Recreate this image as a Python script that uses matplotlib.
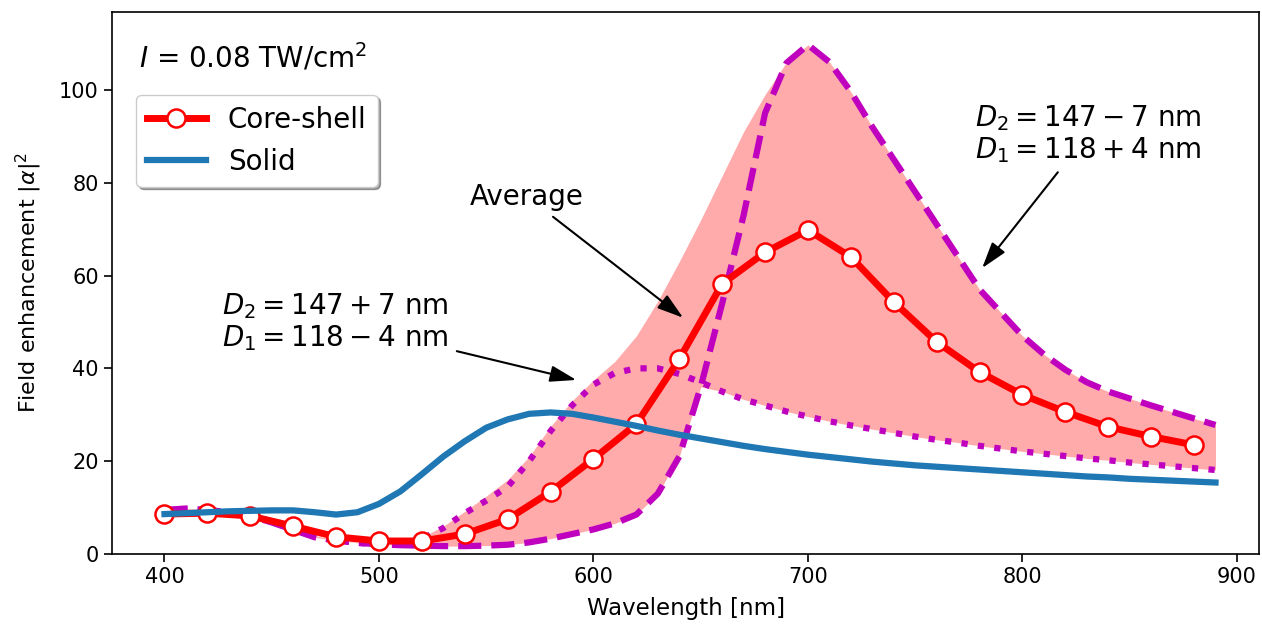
import numpy as np
import matplotlib
matplotlib.use("Agg")
import matplotlib.pyplot as plt

# ---- DATA ----
# wavelength grid of the D-variation curves (nm)
wl = [400, 410, 420, 430, 440, 450, 460, 470, 480, 490,
      500, 510, 520, 530, 540, 550, 560, 570, 580, 590,
      600, 610, 620, 630, 640, 650, 660, 670, 680, 690,
      700, 710, 720, 730, 740, 750, 760, 770, 780, 790,
      800, 810, 820, 830, 840, 850, 860, 870, 880, 890]

# D2 = 147-7 nm, D1 = 118+4 nm (dashed)
d_minus = [9.5, 9.8, 9.5, 9.0, 8.2, 6.8, 5.2, 3.6, 2.9, 2.4,
           2.1, 1.9, 1.8, 1.7, 1.7, 1.8, 2.0, 2.5, 3.3, 4.3,
           5.3, 6.6, 8.5, 13.0, 21.0, 36.0, 54.0, 73.0, 95.0, 105.8,
           109.7, 106.0, 99.6, 92.0, 85.0, 78.0, 71.0, 64.0, 57.0, 52.0,
           47.0, 43.0, 39.7, 37.0, 35.0, 33.5, 32.0, 30.6, 29.2, 27.8]

# D2 = 147+7 nm, D1 = 118-4 nm (dotted)
d_plus = [9.3, 9.5, 9.3, 8.9, 8.3, 7.0, 5.5, 4.0, 3.0, 2.4,
          2.1, 2.3, 3.2, 5.6, 8.8, 11.5, 14.5, 20.0, 26.5, 32.0,
          36.5, 39.0, 40.0, 40.0, 38.8, 37.0, 35.0, 33.3, 32.0, 30.7,
          29.6, 28.6, 27.7, 26.9, 26.1, 25.3, 24.6, 24.0, 23.3, 22.7,
          22.1, 21.6, 21.1, 20.6, 20.2, 19.7, 19.3, 18.9, 18.5, 18.1]

# upper edge of the shaded spread
spread_top = [9.5, 9.8, 9.5, 9.0, 8.3, 7.0, 5.5, 4.0, 3.0, 2.5,
              2.3, 2.6, 3.6, 6.0, 9.2, 12.5, 16.0, 21.0, 27.5, 33.0,
              37.5, 41.5, 47.0, 54.5, 63.0, 72.0, 81.5, 91.0, 99.0, 106.0,
              109.7, 106.0, 99.6, 92.0, 85.0, 78.0, 71.0, 64.0, 57.0, 52.0,
              47.0, 43.0, 39.7, 37.0, 35.0, 33.5, 32.0, 30.6, 29.2, 27.8]

# solid particle
solid = [8.6, 8.8, 9.0, 9.2, 9.3, 9.4, 9.4, 9.0, 8.5, 9.0,
         10.8, 13.5, 17.2, 21.0, 24.3, 27.2, 29.0, 30.2, 30.5, 30.2,
         29.4, 28.5, 27.6, 26.6, 25.7, 24.9, 24.1, 23.3, 22.6, 22.0,
         21.4, 20.9, 20.4, 19.9, 19.5, 19.1, 18.8, 18.5, 18.2, 17.9,
         17.6, 17.3, 17.0, 16.7, 16.5, 16.2, 16.0, 15.8, 15.6, 15.4]

# core-shell average
wl_cs = [400, 420, 440, 460, 480, 500, 520, 540, 560, 580, 600, 620, 640,
         660, 680, 700, 720, 740, 760, 780, 800, 820, 840, 860, 880]
core_shell = [8.6, 8.8, 8.2, 6.0, 3.7, 2.8, 2.8, 4.3, 7.5, 13.4, 20.5, 28.0, 42.0,
              58.2, 65.0, 69.8, 64.0, 54.3, 45.7, 39.2, 34.3, 30.6, 27.4, 25.3, 23.5]

spread_bottom = np.minimum(d_minus, d_plus)

# ---- PLOT ----
fig = plt.figure(figsize=(12.62, 6.25), dpi=100)
ax = fig.add_axes([0.0887, 0.1136, 0.9093, 0.8674])

ax.fill_between(wl, spread_bottom, spread_top, color="r", alpha=0.33, lw=0, zorder=1)
ax.plot(wl, d_minus, "--", color="m", lw=4.5, zorder=2)
ax.plot(wl, d_plus, ":", color="m", lw=4.5, zorder=2)
ax.plot(wl_cs, core_shell, "-o", color="r", lw=5, markersize=13,
        markerfacecolor="white", markeredgecolor="r", markeredgewidth=1.8,
        label="Core-shell", zorder=3)
ax.plot(wl, solid, "-", color="#1f77b4", lw=4.5, label="Solid", zorder=4)

ax.set_xlim(375.5, 910.5)
ax.set_ylim(0, 116.8)
ax.set_xticks([400, 500, 600, 700, 800, 900])
ax.set_yticks([0, 20, 40, 60, 80, 100])
ax.tick_params(labelsize=15, length=6, width=1.2)
for s in ax.spines.values():
    s.set_linewidth(1.2)

ax.set_xlabel("Wavelength [nm]", fontsize=16.5, labelpad=7)
ax.set_ylabel(r"Field enhancement $|\alpha|^2$", fontsize=16, labelpad=11)

ax.text(0.0234, 0.915, r"$I$ = 0.08 TW/cm$^2$", transform=ax.transAxes,
        fontsize=20, va="center", ha="left")

leg = ax.legend(loc="upper left", bbox_to_anchor=(0.009, 0.873), fontsize=20,
                shadow=True, fancybox=True, framealpha=1, handlelength=2.1,
                borderpad=0.4, labelspacing=0.5, handletextpad=0.8)

arrow = dict(arrowstyle="-|>,head_length=0.8,head_width=0.25", color="k",
             lw=1.5, shrinkA=4, shrinkB=0)
ax.annotate("Average", xy=(641.8, 50.9), xytext=(569, 77), fontsize=20,
            ha="center", va="center", arrowprops=arrow)
ax.annotate("$D_2 = 147 + 7$ nm\n$D_1 = 118 - 4$ nm", xy=(592, 37.5),
            xytext=(479.7, 50), fontsize=20, ha="center", va="center",
            linespacing=1.12, arrowprops=arrow)
ax.annotate("$D_2 = 147 - 7$ nm\n$D_1 = 118 + 4$ nm", xy=(781.2, 61.6),
            xytext=(830.6, 90.5), fontsize=20, ha="center", va="center",
            linespacing=1.12, arrowprops=arrow)

plt.savefig("out.png", dpi=100)
